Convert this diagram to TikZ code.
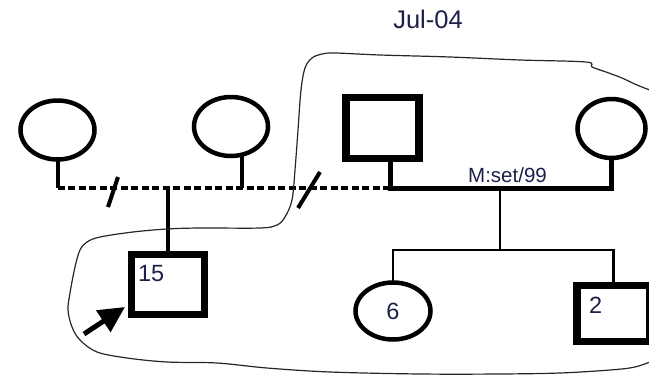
\documentclass[tikz,border=0pt]{standalone}
\usepackage{fontspec}
\setmainfont{Liberation Sans}
\usetikzlibrary{arrows.meta,shapes.geometric}
\definecolor{ink}{RGB}{28,32,72}

\begin{document}
\begin{tikzpicture}[
                        x=1pt, y=-1pt,
                        >={Triangle[length=26pt,width=25pt]},
                        every node/.style={inner sep=0pt,outer sep=0pt},
                        line join=miter
                    ]
                    \tikzstyle{female}=[ellipse,draw,line width=4.5pt,minimum width=74pt,minimum height=59pt]
                    \tikzstyle{male}=[rectangle,draw,line width=7.5pt,minimum width=73pt,minimum height=61pt]
                    \tikzstyle{kid}=[line width=4pt]
                    \tikzstyle{sib}=[line width=2.5pt]
                    \tikzstyle{couple}=[line width=5pt]
                    \tikzstyle{divorced}=[line width=4.5pt,dash pattern=on 7pt off 3.5pt]
                    \tikzstyle{cut}=[line width=4pt]
                    \tikzstyle{num}=[text=ink,font=\fontsize{23.5}{26}\selectfont]
                    \tikzstyle{lasso}=[line width=1.2pt,black!85]

                    \useasboundingbox (0,0) rectangle (649,378);

                    % first generation
                    \node[female] (fa) at (57.5,130)  {} ;
                    \node[female] (fb) at (231,126.5) {} ;
                    \node[male]   (ma) at (382.5,128) {} ;
                    \node[female,minimum width=68pt] (mo) at (611.5,128.5) {} ;

                    % second generation
                    \node[male,minimum height=60pt,
                          label={[num,anchor=north west,xshift=6.5pt,yshift=-10.5pt]north west:15}]
                          (pb) at (168,284.5) {} ;
                    \node[female,minimum width=75pt,minimum height=57pt,num] (da) at (393,311) {6} ;
                    \node[male,minimum height=56pt,
                          label={[num,anchor=north west,xshift=12pt,yshift=-11.5pt]north west:2}]
                          (so) at (613.5,313.5) {} ;

                    \node[text=ink,font=\fontsize{25.5}{30}\selectfont] (date) at (428,19) {Jul-04} ;
                    \node[text=ink,font=\fontsize{20.5}{24}\selectfont] (mar)  at (507.5,175) {M:set/99} ;

                    \coordinate (rel)  at (0,188) ;
                    \coordinate (sibs) at (500,250) ;
                    \coordinate (tail) at (84,334) ;

                    \draw[kid] (fa.south) -- (fa.south |- rel) coordinate (ra) ;
                    \draw[kid] (fb.-68) -- (fb.-68 |- rel) ;
                    \draw[divorced] (ra) -- ([xshift=7.5pt]ma.south |- rel) ;
                    \draw[couple] ([xshift=7.5pt]ma.south) |- (mo.south |- rel) -- (mo.south) ;
                    \draw[kid] (pb.north |- rel) -- (pb.north) ;

                    \draw[cut] (108,207) -- (118,177) ;
                    \draw[cut] (298,208) -- (320,172) ;

                    \draw[sib] (sibs |- rel) -- (sibs) ;
                    \draw[sib] (da.north) |- (sibs) -| (so.north) ;

                    \draw[->,line width=5pt] (tail) -- ([xshift=-6.5pt,yshift=7.5pt]pb.south west) ;

                    \draw[lasso] plot[smooth,tension=0.55] coordinates {
                        (655,92) (637,85) (622,78) (606,72) (592,67) (586,62)
                        (520,60) (450,57) (380,55) (335,53) (322,54) (312,58)
                        (305,68) (301,90) (298,130) (295,170) (292,200) (285,217)
                        (277,225) (260,228) (200,228) (167,229) (133,232) (100,237)
                        (87,242) (80,250) (75,267) (70,293) (68,310) (72,327)
                        (80,340) (97,352) (127,358) (167,362) (217,363) (267,368)
                        (330,372) (420,374) (500,374) (560,373) (610,370) (635,367)
                        (655,360)} ;

                \end{tikzpicture}
\end{document}
